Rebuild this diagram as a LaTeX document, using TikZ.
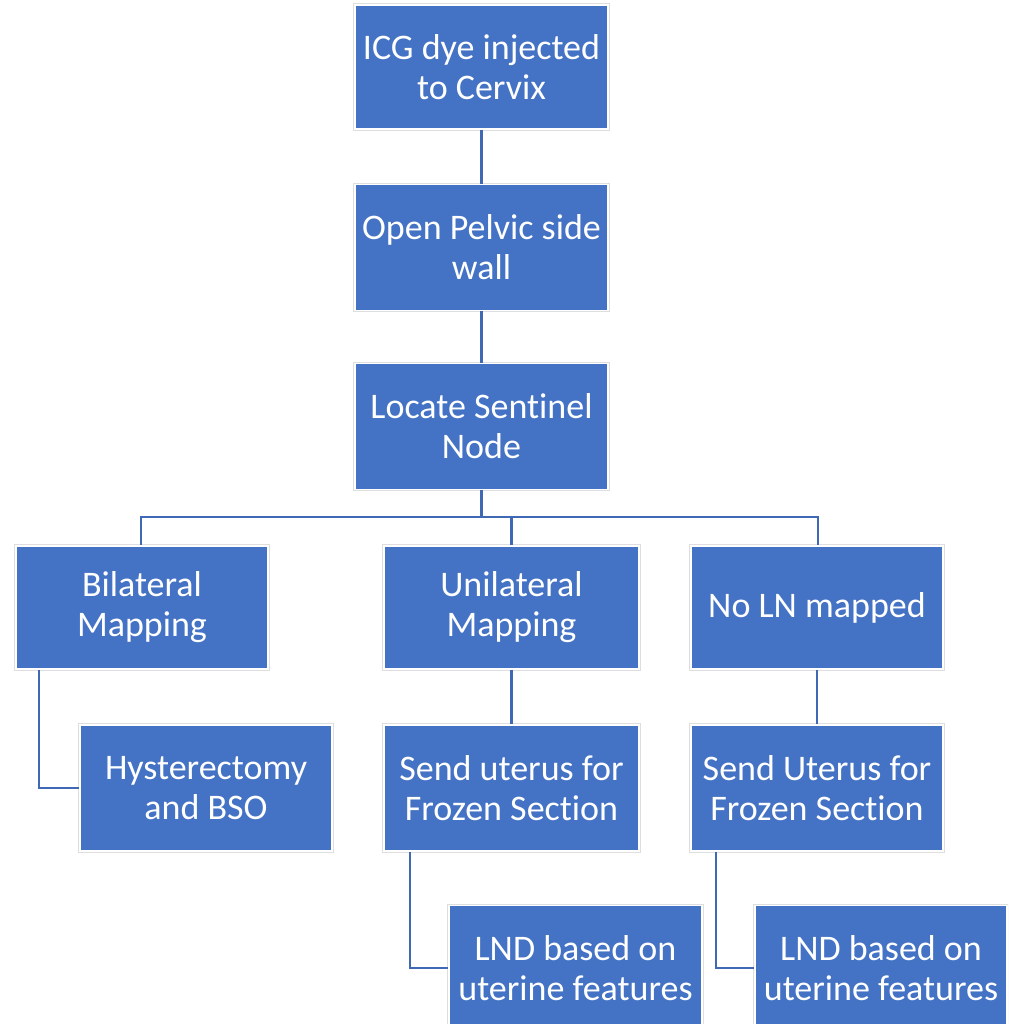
\documentclass[tikz,border=0pt]{standalone}
\usepackage{fontspec}
\setmainfont{Carlito}[Ligatures={NoCommon,NoDiscretionary},Contextuals=NoAlternate]
\usetikzlibrary{calc}
\definecolor{boxblue}{HTML}{4472C4}
\definecolor{lineblue}{HTML}{3F69B5}
\begin{document}
\begin{tikzpicture}[x=1pt,y=-1pt,
  stepbox/.style={rectangle, fill=boxblue, draw=white, line width=1.8pt,
    preaction={draw=black!13, line width=3.6pt},
    text=white, align=center, inner sep=0pt,
    font=\fontsize{36}{40}\selectfont},
  conn/.style={draw=lineblue, line width=2.4pt}]
\useasboundingbox (0,0) rectangle (1008,1024);
\clip (0,0) rectangle (1008,1024);
\fill[white] (0,0) rectangle (1008,1024);

% main trunk
\node[stepbox, minimum width=253pt, minimum height=124pt] (b1) at (481.5,67) {ICG dye injected\\to Cervix};
\node[stepbox, minimum width=253pt, minimum height=126pt] (b2) at (481.5,247.5) {Open Pelvic side\\wall};
\node[stepbox, minimum width=253pt, minimum height=126pt] (b3) at (481.5,426.5) {Locate Sent\kern0pt inel\\Node};

% three mapping outcomes
\node[stepbox, minimum width=252pt, minimum height=123pt] (bil) at (142,607.5) {Bilateral\\Mapping};
\node[stepbox, minimum width=255pt, minimum height=123pt] (uni) at (511.5,607.5) {Unilateral\\Mapping};
\node[stepbox, minimum width=252pt, minimum height=123pt] (noln) at (817,607.5) {No LN mapped};

% follow-up steps
\node[stepbox, minimum width=252pt, minimum height=126pt] (hyst) at (206,788) {Hysterectomy\\and BSO};
\node[stepbox, minimum width=255pt, minimum height=126pt] (send1) at (511.5,788) {Send uterus for\\Frozen Sect\kern0pt ion};
\node[stepbox, minimum width=252pt, minimum height=126pt] (send2) at (817,788) {Send Uterus for\\Frozen Sect\kern0pt ion};
\node[stepbox, minimum width=253pt, minimum height=125pt] (lnd1) at (575.5,968) {LND based on\\uterine features};
\node[stepbox, minimum width=252pt, minimum height=125pt] (lnd2) at (881,968) {LND based on\\uterine features};

% connectors
\coordinate (busL) at (141,517);
\coordinate (busR) at (818,517);
\draw[conn] (b1.south) -- (b2.north);
\draw[conn] (b2.south) -- (b3.north);
\draw[conn] (b3.south) -- (b3.south |- busL);
\draw[conn] (bil.north -| busL) -- (busL) -- (busR) -- (noln.north -| busR);
\draw[conn] (uni.north) -- (uni.north |- busL);
\draw[conn] ($(bil.south west)+(24,0)$) |- (hyst.west);
\draw[conn] (uni.south) -- (send1.north);
\draw[conn] (noln.south) -- (send2.north);
\draw[conn] ($(send1.south west)+(27,0)$) |- (lnd1.west);
\draw[conn] ($(send2.south west)+(26,0)$) |- (lnd2.west);
\end{tikzpicture}
\end{document}
